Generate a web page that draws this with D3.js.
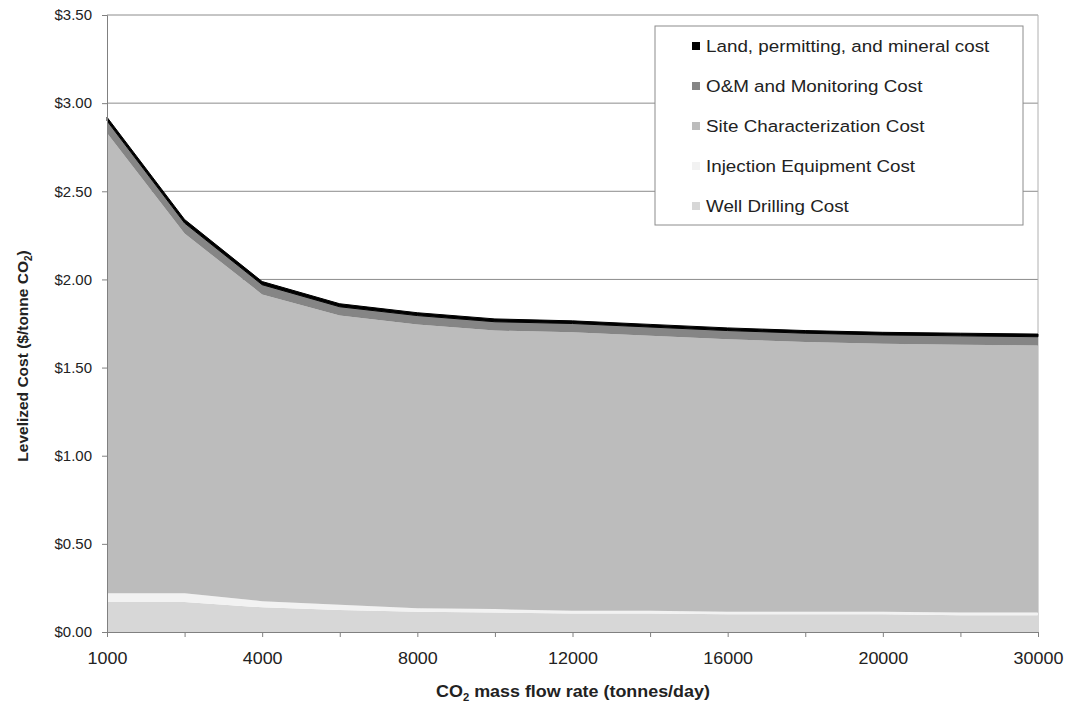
<!DOCTYPE html>
<html>
<head>
<meta charset="utf-8">
<script src="https://cdn.jsdelivr.net/npm/d3@7"></script>
<style>
  body { margin: 0; background: #fff; }
  svg { display: block; font-family: "Liberation Sans", Arial, sans-serif; }
</style>
</head>
<body>
<svg id="chart" width="1069" height="704"></svg>
<script>
// CO2 mass flow rate categories (tonnes/day)
const flowRates = [1000, 2000, 4000, 6000, 8000, 10000, 12000, 14000, 16000, 18000, 20000, 25000, 30000];
const xTickLabels = [1000, 4000, 8000, 12000, 16000, 20000, 30000];

// Levelized cost components ($/tonne CO2), bottom of the stack first
const wellDrilling      = [0.17, 0.17, 0.14, 0.125, 0.115, 0.11, 0.105, 0.105, 0.10, 0.10, 0.10, 0.095, 0.095];
const injectionEquip    = [0.05, 0.05, 0.035, 0.03, 0.02, 0.02, 0.015, 0.015, 0.015, 0.015, 0.015, 0.015, 0.015];
const siteCharacterize  = [2.61, 2.04, 1.74, 1.64, 1.61, 1.58, 1.58, 1.56, 1.545, 1.53, 1.52, 1.52, 1.515];
const omMonitoring      = [0.07, 0.06, 0.055, 0.05, 0.05, 0.05, 0.05, 0.05, 0.05, 0.05, 0.05, 0.05, 0.05];
const landPermitMineral = [0.02, 0.02, 0.018, 0.017, 0.016, 0.016, 0.015, 0.015, 0.015, 0.015, 0.015, 0.015, 0.015];

const yTicks = [0, 0.5, 1.0, 1.5, 2.0, 2.5, 3.0, 3.5];

const seriesKeys = ["well", "inj", "site", "om", "land"];
const seriesNames = {
  land: "Land, permitting, and mineral cost",
  om: "O&M and Monitoring Cost",
  site: "Site Characterization Cost",
  inj: "Injection Equipment Cost",
  well: "Well Drilling Cost"
};
const seriesColors = {
  land: "#000000",
  om: "#858585",
  site: "#bcbcbc",
  inj: "#f2f2f2",
  well: "#d7d7d7"
};

const table = flowRates.map((f, i) => ({
  flow: f,
  well: wellDrilling[i],
  inj: injectionEquip[i],
  site: siteCharacterize[i],
  om: omMonitoring[i],
  land: landPermitMineral[i]
}));

const svg = d3.select("#chart");
const W = 1069, H = 704;
const margin = { left: 107, right: W - 1038, top: 15, bottom: H - 632 };
const textStretch = 1.12; // glyphs are drawn slightly wide

const x = d3.scalePoint().domain(flowRates).range([margin.left, W - margin.right]);
const y = d3.scaleLinear().domain([0, 3.5]).range([H - margin.bottom, margin.top]);

// gridlines
svg.append("g")
  .selectAll("line")
  .data(yTicks.filter(t => t > 0))
  .join("line")
  .attr("x1", margin.left).attr("x2", W - margin.right)
  .attr("y1", d => y(d)).attr("y2", d => y(d))
  .attr("stroke", "#8c8c8c").attr("stroke-width", 1);

// right border of plot area
svg.append("line")
  .attr("x1", W - margin.right).attr("x2", W - margin.right)
  .attr("y1", margin.top).attr("y2", H - margin.bottom)
  .attr("stroke", "#b0b0b0");

// stacked areas
const stack = d3.stack().keys(seriesKeys);
const layers = stack(table);
const area = d3.area()
  .x(d => x(d.data.flow))
  .y0(d => y(d[0]))
  .y1(d => y(d[1]));

svg.append("g")
  .selectAll("path")
  .data(layers)
  .join("path")
  .attr("d", area)
  .attr("fill", d => seriesColors[d.key])
  .attr("stroke", d => d.key === "land" ? "#000" : "none")
  .attr("stroke-width", 1);

// axes
const yAxis = d3.axisLeft(y).tickValues(yTicks).tickSize(5).tickPadding(10)
  .tickFormat(d => "$" + d3.format(".2f")(d));
const gy = svg.append("g").attr("transform", `translate(${margin.left},0)`).call(yAxis);
gy.select(".domain").attr("stroke", "#808080");
gy.selectAll(".tick line").attr("stroke", "#808080");
gy.selectAll(".tick text").attr("font-size", 15).attr("fill", "#222");

const xAxis = d3.axisBottom(x).tickSize(5).tickPadding(16)
  .tickFormat(d => xTickLabels.includes(d) ? d : "");
const gx = svg.append("g").attr("transform", `translate(0,${H - margin.bottom})`).call(xAxis);
gx.select(".domain").attr("stroke", "#808080");
gx.selectAll(".tick line").attr("stroke", "#808080");
// stretched labels stay centred on their ticks (text x is 0 inside each tick group)
gx.selectAll(".tick text")
  .attr("font-size", 16).attr("fill", "#222")
  .attr("transform", `scale(${textStretch},1)`);

// axis titles
const xt = svg.append("text")
  .attr("transform", `translate(573,697) scale(${textStretch},1)`)
  .attr("text-anchor", "middle")
  .attr("font-size", 16).attr("font-weight", "bold").attr("fill", "#222");
xt.append("tspan").text("CO");
xt.append("tspan").text("2").attr("font-size", 10).attr("dy", 4);
xt.append("tspan").text(" mass flow rate (tonnes/day)").attr("dy", -4);

const yt = svg.append("text")
  .attr("transform", "translate(28,356) rotate(-90)")
  .attr("text-anchor", "middle")
  .attr("font-size", 15.5).attr("font-weight", "bold").attr("fill", "#222");
yt.append("tspan").text("Levelized Cost ($/tonne CO");
yt.append("tspan").text("2").attr("font-size", 10).attr("dy", 4);
yt.append("tspan").text(")").attr("dy", -4);

// legend
const legendOrder = ["land", "om", "site", "inj", "well"];
const lg = svg.append("g");
lg.append("rect")
  .attr("x", 655).attr("y", 26).attr("width", 368).attr("height", 199)
  .attr("fill", "#fff").attr("stroke", "#8c8c8c").attr("stroke-width", 1);
const items = lg.selectAll("g.item")
  .data(legendOrder)
  .join("g")
  .attr("class", "item")
  .attr("transform", (d, i) => `translate(0,${46 + i * 40})`);
items.append("rect")
  .attr("x", 692).attr("y", -4).attr("width", 8).attr("height", 8)
  .attr("fill", d => seriesColors[d]);
items.append("text")
  .attr("transform", `translate(706,0) scale(${textStretch},1)`)
  .attr("dy", "0.35em")
  .attr("font-size", 16.8).attr("fill", "#222")
  .text(d => seriesNames[d]);
</script>
</body>
</html>
